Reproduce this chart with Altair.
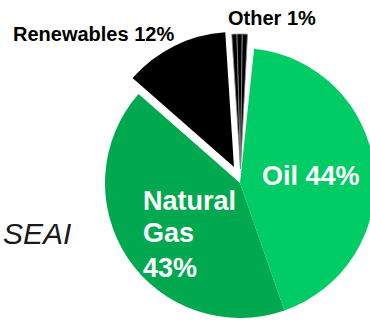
import math
import altair as alt
import pandas as pd

# ---- data (share of the pie, percent) ----
categories = ["Oil", "Natural Gas", "Renewables", "Other", "Other", "Other"]
values = [43.0, 41.8, 12.5, 0.62, 0.62, 0.62]
colors_domain = ["Oil", "Natural Gas", "Renewables", "Other"]
colors_range = ["#00CC66", "#00A94F", "#000000", "#000000"]

label_renew = "Renewables 12%"
label_other = "Other 1%"
label_oil = "Oil 44%"
label_gas = ["Natural", "Gas", "43%"]
source_text = "SEAI"

df = pd.DataFrame({
    "category": categories,
    "value": values,
    "order": list(range(len(categories))),
})

FONT = "Liberation Sans"
start_off = math.radians(6)

base = (
    alt.Chart(df)
    .transform_window(cum="sum(value)", sort=[alt.SortField("order")], frame=[None, 0])
    .transform_calculate(start="datum.cum - datum.value")
)

theta = alt.Theta("start:Q", scale=alt.Scale(domain=[0, 100], range=[start_off, start_off + 2 * math.pi]))
color = alt.Color("category:N", scale=alt.Scale(domain=colors_domain, range=colors_range), legend=None)

main = base.transform_filter(
    alt.FieldOneOfPredicate(field="category", oneOf=["Oil", "Natural Gas"])
).mark_arc(radius=135).encode(
    theta=theta, theta2="cum:Q", color=color,
    x=alt.value(240), y=alt.value(183),
)

renew = base.transform_filter(alt.datum.category == "Renewables").mark_arc(radius=135).encode(
    theta=theta, theta2="cum:Q", color=color,
    x=alt.value(234), y=alt.value(167),
)

other = base.transform_filter(alt.datum.category == "Other").mark_arc(
    radius=135, stroke="#8a8a8a", strokeWidth=0.8
).encode(
    theta=theta, theta2="cum:Q", color=color,
    x=alt.value(240.5), y=alt.value(169),
)

def text_layer(txt, x, y, size, color, style="normal", weight="bold"):
    return alt.Chart(pd.DataFrame({"t": [txt]})).mark_text(
        align="left", baseline="alphabetic", font=FONT, fontSize=size,
        fontWeight=weight, fontStyle=style, color=color,
    ).encode(text="t:N", x=alt.value(x), y=alt.value(y))

layers = [main, renew, other,
          text_layer(label_renew, 13, 41, 20, "#000000"),
          text_layer(label_other, 228, 25, 20, "#000000"),
          text_layer(label_oil, 262, 185, 27, "#FFFFFF"),
          text_layer(label_gas[0], 143, 210, 27, "#FFFFFF"),
          text_layer(label_gas[1], 143, 242, 27, "#FFFFFF"),
          text_layer(label_gas[2], 143, 277, 27, "#FFFFFF"),
          text_layer(source_text, 3, 244, 30, "#1a1a1a", style="italic", weight="normal")]

chart = alt.layer(*layers).properties(
    width=370, height=322, autosize="none", padding=0
).configure_view(stroke=None)

chart.save("out.html", embed_options={"renderer": "svg", "actions": False})
